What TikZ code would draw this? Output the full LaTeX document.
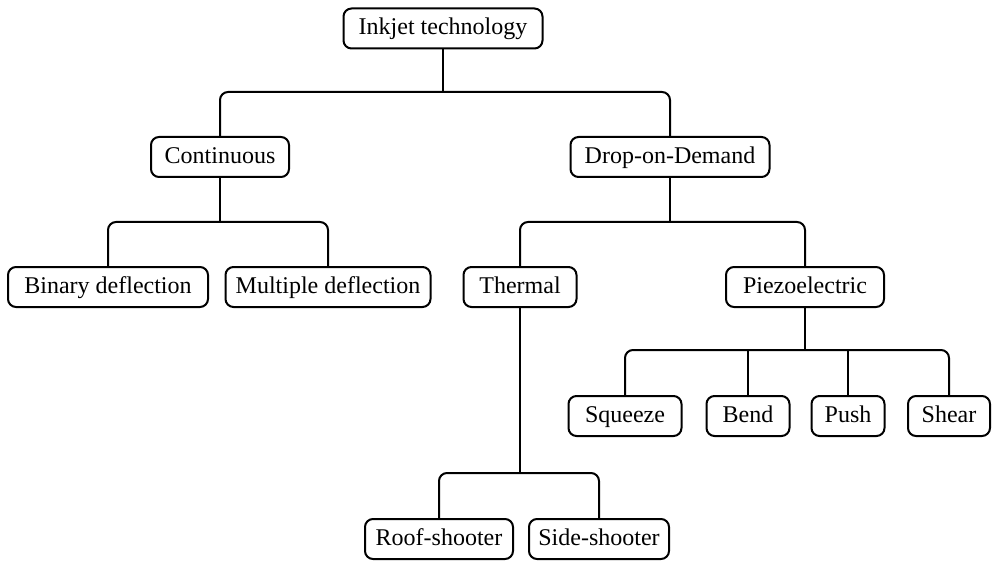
\documentclass[tikz,border=0pt]{standalone}
\usepackage{fontspec}
\setmainfont{Liberation Serif}
\begin{document}
\begin{tikzpicture}[x=1pt,y=-1pt,
 box/.style={draw, line width=2pt, rounded corners=8pt, fill=white, inner sep=0pt,
   minimum height=40pt, font=\fontsize{24}{28}\selectfont, text height=16pt, text depth=3pt},
 conn/.style={line width=2pt, rounded corners=8pt}]
\useasboundingbox (0,0) rectangle (992,561);
% nodes
\node[box, minimum width=199pt] (ink) at (443,28.5) {Inkjet technology};
\node[box, minimum width=138pt] (cont) at (220,157) {Continuous};
\node[box, minimum width=199pt] (dod) at (670,157) {Drop-on-Demand};
\node[box, minimum width=200pt] (bin) at (108,287) {Binary deflection};
\node[box, minimum width=205pt] (mult) at (328,287) {Multiple deflection};
\node[box, minimum width=113pt] (therm) at (520,287) {Thermal};
\node[box, minimum width=158pt] (piezo) at (805,287) {Piezoelectric};
\node[box, minimum width=113pt] (squeeze) at (625,416) {Squeeze};
\node[box, minimum width=83pt] (bend) at (748,416) {Bend};
\node[box, minimum width=73pt] (push) at (848,416) {Push};
\node[box, minimum width=82pt] (shear) at (949,416) {Shear};
\node[box, minimum width=148pt] (roof) at (439,539) {Roof-shooter};
\node[box, minimum width=140pt] (side) at (599,539) {Side-shooter};
% bus points
\coordinate (b0) at (443,92);
\coordinate (b1) at (220,222);
\coordinate (b2) at (670,222);
\coordinate (b3) at (805,350);
\coordinate (b4) at (520,473);
% connectors
\draw[conn] (ink.south) -- (b0);
\draw[conn] (cont.north) |- (b0) -| (dod.north);
\draw[conn] (cont.south) -- (b1);
\draw[conn] (bin.north) |- (b1) -| (mult.north);
\draw[conn] (dod.south) -- (b2);
\draw[conn] (therm.north) |- (b2) -| (piezo.north);
\draw[conn] (piezo.south) -- (b3);
\draw[conn] (squeeze.north) |- (b3) -| (shear.north);
\draw[conn] (bend.north) -- (bend.north |- b3);
\draw[conn] (push.north) -- (push.north |- b3);
\draw[conn] (therm.south) -- (b4);
\draw[conn] (roof.north) |- (b4) -| (side.north);
\end{tikzpicture}
\end{document}
